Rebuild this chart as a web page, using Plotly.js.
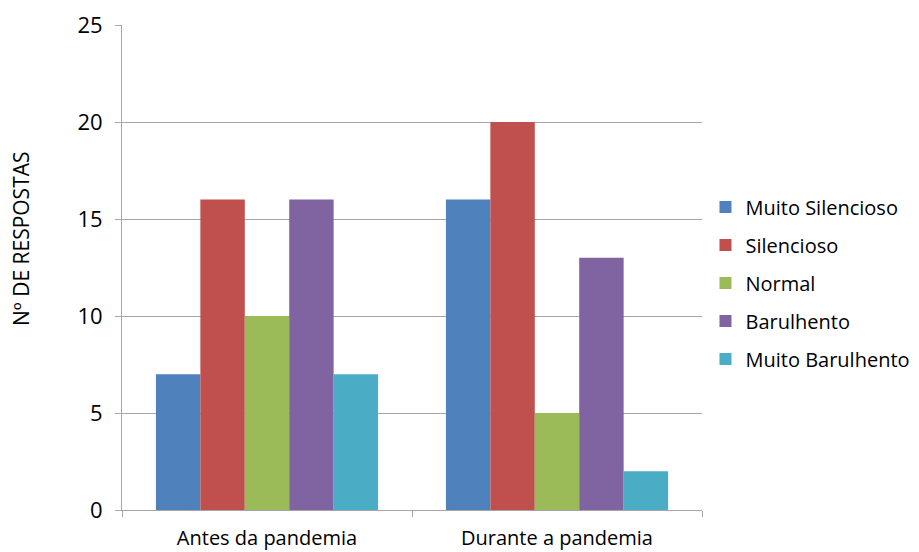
<!DOCTYPE html>
<html>
<head>
<meta charset="utf-8">
<script src="https://cdn.plot.ly/plotly-3.0.1.min.js"></script>
<style>html,body{margin:0;padding:0;background:#fff;}#chart{width:919px;height:552px;}</style>
</head>
<body>
<div id="chart"></div>
<script>
const categories = ["Antes da pandemia", "Durante a pandemia"];
const seriesNames = ["Muito Silencioso", "Silencioso", "Normal", "Barulhento", "Muito Barulhento"];
const muitoSilencioso = [7, 16];
const silencioso = [16, 20];
const normal = [10, 5];
const barulhento = [16, 13];
const muitoBarulhento = [7, 2];
const seriesColors = ["#4F81BD", "#C0504D", "#9BBB59", "#8064A2", "#4BACC6"];
const yTicks = [0, 5, 10, 15, 20, 25];
const yTitle = "Nº DE RESPOSTAS";

const values = [muitoSilencioso, silencioso, normal, barulhento, muitoBarulhento];
const font = "'Open Sans', 'Noto Sans', sans-serif";

const traces = seriesNames.map((name, i) => ({
  type: "bar",
  name: name,
  x: categories,
  y: values[i],
  legendgroup: "g" + i,
  marker: { color: seriesColors[i], line: { width: 0 } },
  hoverinfo: "x+y+name"
}));

const layout = {
  width: 919,
  height: 552,
  margin: { l: 122, r: 217, t: 25, b: 42, autoexpand: false },
  paper_bgcolor: "#ffffff",
  plot_bgcolor: "#ffffff",
  barmode: "group",
  bargap: 0.234,
  bargroupgap: 0,
  font: { family: font, size: 20, color: "#000000" },
  xaxis: {
    type: "category",
    tickson: "boundaries",
    ticks: "outside",
    ticklen: 6,
    tickcolor: "#A6A6A6",
    showline: true,
    linecolor: "#A6A6A6",
    linewidth: 1,
    showgrid: false,
    tickfont: { family: font, size: 20, color: "#000" },
    ticklabelstandoff: 10,
    fixedrange: true
  },
  yaxis: {
    range: [0, 25],
    tickvals: yTicks,
    ticktext: yTicks.map(String),
    ticks: "outside",
    ticklen: 6,
    tickcolor: "#A6A6A6",
    showline: true,
    linecolor: "#A6A6A6",
    linewidth: 1,
    showgrid: true,
    gridcolor: "#A6A6A6",
    gridwidth: 1,
    zeroline: false,
    tickfont: { family: font, size: 22, color: "#000" },
    ticklabelstandoff: 8,
    fixedrange: true
  },
  annotations: [{
    text: yTitle,
    xref: "paper", yref: "paper",
    x: -0.174, y: 0.559,
    xanchor: "center", yanchor: "middle",
    textangle: -90,
    showarrow: false,
    font: { family: font, size: 21, color: "#000" }
  }],
  legend: {
    x: 1.006,
    xanchor: "left",
    y: 0.468,
    yanchor: "middle",
    traceorder: "grouped",
    tracegroupgap: 9,
    font: { family: font, size: 20, color: "#000" },
    itemwidth: 30,
    bgcolor: "rgba(0,0,0,0)"
  },
  showlegend: true
};

Plotly.newPlot("chart", traces, layout, { displayModeBar: false });
</script>
</body>
</html>
